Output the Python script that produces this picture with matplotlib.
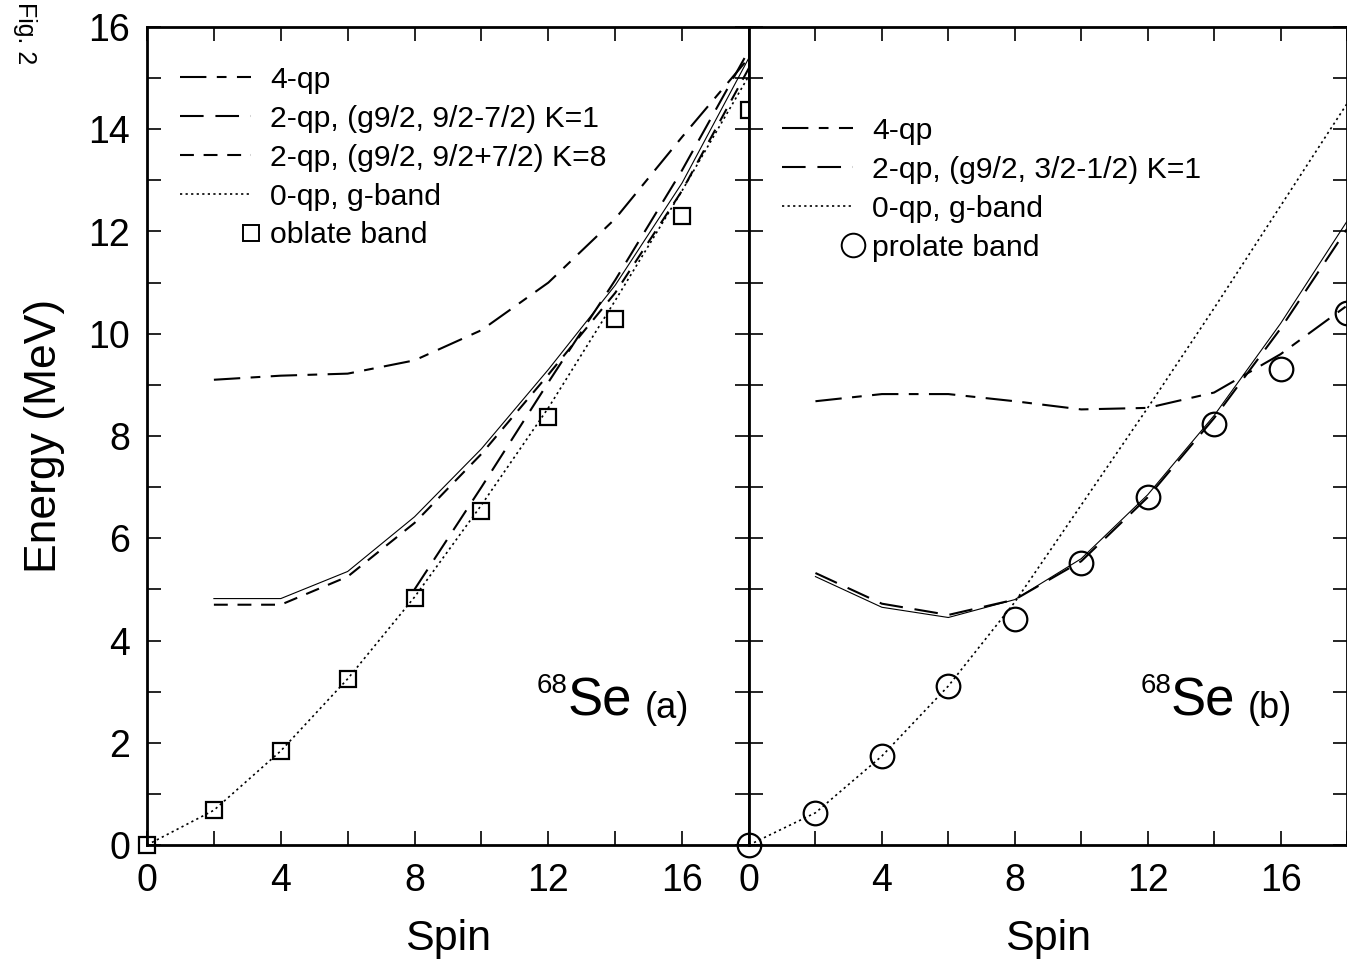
import numpy as np
import matplotlib
matplotlib.use("Agg")
import matplotlib.pyplot as plt
from matplotlib.lines import Line2D
from matplotlib.legend_handler import HandlerLine2D

plt.rcParams['font.family'] = ['Liberation Sans', 'DejaVu Sans']
plt.rcParams['lines.scale_dashes'] = False

# -----------------------------
# Data
# -----------------------------
spin = [0, 2, 4, 6, 8, 10, 12, 14, 16, 18]
spin_2 = [2, 4, 6, 8, 10, 12, 14, 16, 18]
spin_8 = [8, 10, 12, 14, 16, 18]

# panel (a): oblate
a_oblate = [0.0, 0.68, 1.84, 3.25, 4.83, 6.53, 8.37, 10.29, 12.3, 14.38]
a_gband = [0.0, 0.68, 1.84, 3.25, 4.85, 6.65, 8.55, 10.65, 12.8, 15.05]
a_4qp = [9.1, 9.18, 9.22, 9.48, 10.07, 11.0, 12.25, 13.85, 15.4]
a_2qp_k1 = [5.0, 7.0, 9.05, 11.05, 13.2, 15.55]
a_2qp_k8 = [4.7, 4.7, 5.25, 6.3, 7.65, 9.2, 10.8, 12.8, 15.2]
a_yrast = [4.82, 4.82, 5.35, 6.42, 7.75, 9.3, 10.95, 12.95, 15.4]

# panel (b): prolate
b_prolate = [0.0, 0.63, 1.74, 3.11, 4.42, 5.52, 6.81, 8.23, 9.31, 10.4]
b_gband = [0.0, 0.63, 1.74, 3.11, 4.75, 6.65, 8.55, 10.5, 12.5, 14.5]
b_4qp = [8.68, 8.82, 8.82, 8.68, 8.52, 8.55, 8.85, 9.6, 10.55]
b_2qp_k1 = [5.32, 4.72, 4.5, 4.8, 5.55, 6.8, 8.35, 10.1, 12.05]
b_yrast = [5.25, 4.65, 4.45, 4.8, 5.6, 6.85, 8.4, 10.2, 12.2]

# -----------------------------
# Styles
# -----------------------------
LW = 1.5
DASH_4QP = (0, (19, 7.5, 7, 7.5))
DASH_K1 = (0, (17, 8.5))
DASH_K8 = (0, (10, 7))
DOT = (0, (1.6, 2.4))
FS_TICK = 27
FS_LEG = 21.7


class HandlerMarkerRight(HandlerLine2D):
    # put the symbol at the right end of the handle, next to the label
    def get_xdata(self, legend, xdescent, ydescent, width, height, fontsize):
        xm = -xdescent + width
        return [xm - 1, xm + 1], [xm]


fig = plt.figure(figsize=(13.47, 9.63), dpi=100)
ax_a = fig.add_axes([147 / 1347, 1 - 845 / 963, 602 / 1347, 818 / 963])
ax_b = fig.add_axes([749 / 1347, 1 - 845 / 963, 598 / 1347, 818 / 963])

# ---- panel (a) ----
ax_a.plot(spin_2, a_4qp, color="k", lw=LW, ls=DASH_4QP)
ax_a.plot(spin_8, a_2qp_k1, color="k", lw=LW, ls=DASH_K1)
ax_a.plot(spin_2, a_2qp_k8, color="k", lw=LW, ls=DASH_K8)
ax_a.plot(spin, a_gband, color="k", lw=1.2, ls=DOT)
ax_a.plot(spin_2, a_yrast, color="k", lw=0.8, ls="-")
ax_a.plot(spin, a_oblate, ls="none", marker="s", ms=12, mfc="none",
          mec="k", mew=1.6, clip_on=False, zorder=5)

# ---- panel (b) ----
ax_b.plot(spin_2, b_4qp, color="k", lw=LW, ls=DASH_4QP)
ax_b.plot(spin_2, b_2qp_k1, color="k", lw=LW, ls=DASH_K1)
ax_b.plot(spin, b_gband, color="k", lw=1.2, ls=DOT)
ax_b.plot(spin_2, b_yrast, color="k", lw=0.8, ls="-")
ax_b.plot(spin, b_prolate, ls="none", marker="o", ms=17, mfc="none",
          mec="k", mew=1.6, clip_on=False, zorder=5)

for ax, xmax in [(ax_a, 18), (ax_b, 17.85)]:
    ax.set_xlim(0, xmax)
    ax.set_ylim(0, 16)
    ax.set_xticks([0, 4, 8, 12, 16])
    ax.set_xticks([2, 6, 10, 14, 18], minor=True)
    ax.set_yticks(np.arange(0, 17, 2))
    ax.set_yticks(np.arange(1, 16, 2), minor=True)
    ax.tick_params(which="both", direction="in", top=True, right=True,
                   length=10, width=1.2, labelsize=FS_TICK)
    ax.tick_params(axis="x", pad=13)
    ax.tick_params(axis="y", pad=12)
    for s in ax.spines.values():
        s.set_linewidth(2)
    ax.set_xlabel("Spin", fontsize=31, labelpad=14)

ax_b.tick_params(axis="y", labelleft=False)
ax_a.set_ylabel("Energy (MeV)", fontsize=32, labelpad=17)

# ---- legends ----
h_4qp = Line2D([], [], color="k", lw=LW, ls=DASH_4QP)
h_k1 = Line2D([], [], color="k", lw=LW, ls=DASH_K1)
h_k8 = Line2D([], [], color="k", lw=LW, ls=DASH_K8)
h_g = Line2D([], [], color="k", lw=1.2, ls=DOT)
h_sq = Line2D([], [], ls="none", marker="s", ms=12, mfc="none", mec="k", mew=1.4)
h_ci = Line2D([], [], ls="none", marker="o", ms=17, mfc="none", mec="k", mew=1.4)

leg_kw = dict(frameon=False, fontsize=FS_LEG, handlelength=2.35, handletextpad=0.65,
              labelspacing=0.36, borderpad=0, borderaxespad=0, loc="upper left",
              numpoints=1, handler_map={h_sq: HandlerMarkerRight(), h_ci: HandlerMarkerRight()})

ax_a.legend([h_4qp, h_k1, h_k8, h_g, h_sq],
            ["4-qp", "2-qp, (g9/2, 9/2-7/2) K=1", "2-qp, (g9/2, 9/2+7/2) K=8",
             "0-qp, g-band", "oblate band"],
            bbox_to_anchor=(33 / 602, (845 - 66) / 818), **leg_kw)
ax_b.legend([h_4qp, h_k1, h_g, h_ci],
            ["4-qp", "2-qp, (g9/2, 3/2-1/2) K=1", "0-qp, g-band", "prolate band"],
            bbox_to_anchor=(33 / 598, (845 - 117) / 818), **leg_kw)

# ---- nucleus labels ----
for ax, tag, x in [(ax_a, "(a)", (568 - 147) / 602), (ax_b, "(b)", (1171 - 749) / 598)]:
    t = ax.text(x, (845 - 715) / 818, "Se", transform=ax.transAxes,
                fontsize=38, ha="left", va="baseline")
    ax.annotate("68", xy=(0, 1.06), xycoords=t, fontsize=20, ha="right", va="top")
    ax.annotate(tag, xy=(1, 0), xycoords=t, xytext=(9, 0), textcoords="offset points",
                fontsize=26, ha="left", va="bottom")

fig.text(25 / 1347, 0.998, "Fig. 2", rotation=-90, fontsize=18, ha="center", va="top")

fig.savefig("out.png", dpi=100)
